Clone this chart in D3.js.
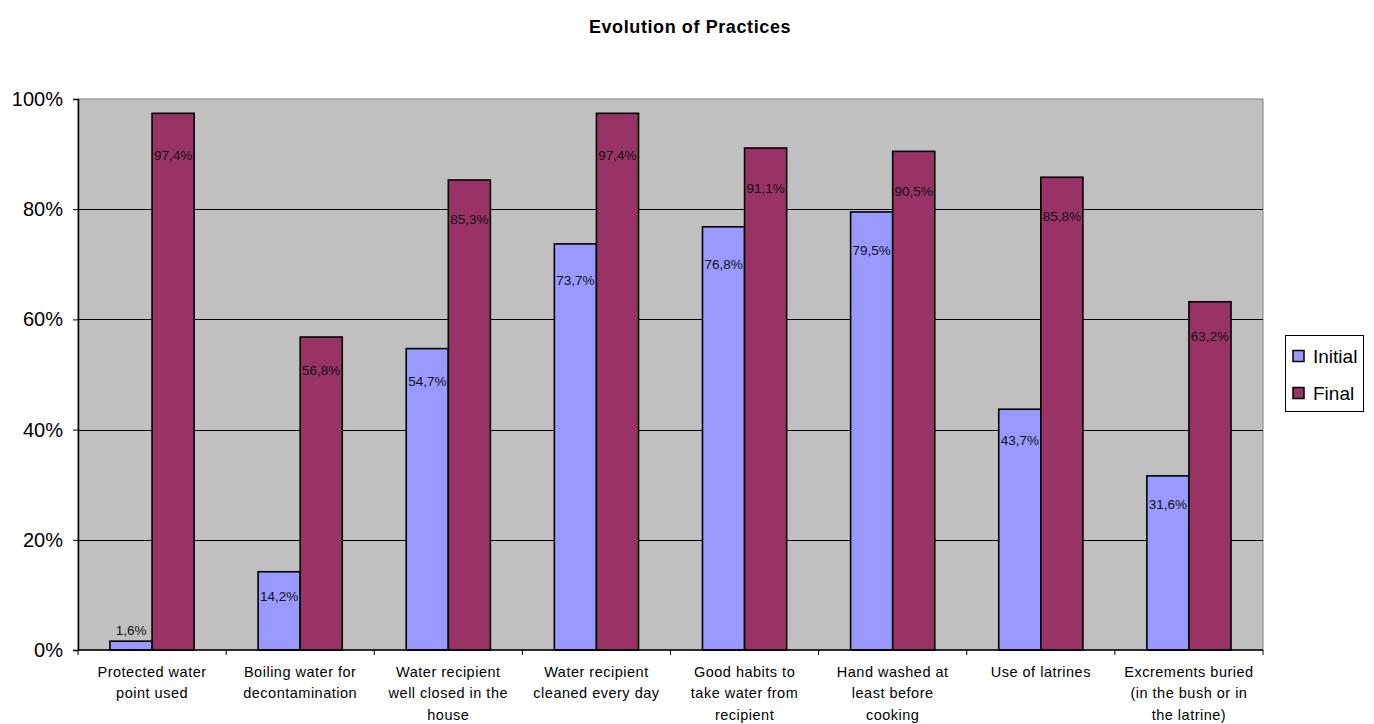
<!DOCTYPE html>
<html>
<head>
<meta charset="utf-8">
<script src="https://cdn.jsdelivr.net/npm/d3@7"></script>
<style>
  html, body { margin: 0; padding: 0; background: #ffffff; }
  svg { display: block; font-family: "Liberation Sans", Arial, sans-serif; }
</style>
</head>
<body>
<svg id="chart" width="1374" height="724"></svg>
<script>
// Practice indicators, before and after the programme
const categories = [
  ["Protected water", "point used"],
  ["Boiling water for", "decontamination"],
  ["Water recipient", "well closed in the", "house"],
  ["Water recipient", "cleaned every day"],
  ["Good habits to", "take water from", "recipient"],
  ["Hand washed at", "least before", "cooking"],
  ["Use of latrines"],
  ["Excrements buried", "(in the bush or in", "the latrine)"]
];
const seriesNames = ["Initial", "Final"];
const initialValues = [1.6, 14.2, 54.7, 73.7, 76.8, 79.5, 43.7, 31.6];
const finalValues = [97.4, 56.8, 85.3, 97.4, 91.1, 90.5, 85.8, 63.2];
const yTicks = [0, 20, 40, 60, 80, 100];
const colors = ["#9999FF", "#993366"];

const seriesValues = [initialValues, finalValues];
const rows = categories.map((c, i) => ({
  index: i,
  lines: c,
  values: seriesNames.map((s, k) => ({ series: s, k, value: seriesValues[k][i] }))
}));

const svg = d3.select("#chart");
const plot = { left: 78, right: 1263, top: 99, bottom: 650 };

// Title
svg.append("text")
  .attr("x", 690).attr("y", 33)
  .attr("text-anchor", "middle")
  .attr("font-weight", "bold")
  .attr("font-size", 18)
  .attr("letter-spacing", 0.6)
  .text("Evolution of Practices");

const x0 = d3.scaleBand()
  .domain(rows.map(r => r.index))
  .range([plot.left, plot.right])
  .paddingInner(0).paddingOuter(0);

const x1 = d3.scaleBand()
  .domain(seriesNames)
  .range([0, x0.bandwidth()])
  .paddingInner(0).paddingOuter(0.76);

const y = d3.scaleLinear().domain([0, 100]).range([plot.bottom, plot.top]);

// Plot background
svg.append("rect")
  .attr("x", plot.left).attr("y", plot.top)
  .attr("width", plot.right - plot.left)
  .attr("height", plot.bottom - plot.top)
  .attr("fill", "#C0C0C0")
  .attr("stroke", "#808080")
  .attr("stroke-width", 1);

// Gridlines
svg.append("g")
  .selectAll("line")
  .data(yTicks.filter(t => t > 0 && t < 100))
  .join("line")
  .attr("x1", plot.left).attr("x2", plot.right)
  .attr("y1", d => Math.round(y(d)) + 0.5).attr("y2", d => Math.round(y(d)) + 0.5)
  .attr("stroke", "#000").attr("stroke-width", 1);

// Bars
const groups = svg.append("g")
  .selectAll("g")
  .data(rows)
  .join("g")
  .attr("transform", d => `translate(${x0(d.index)},0)`);

groups.selectAll("rect")
  .data(d => d.values)
  .join("rect")
  .attr("x", d => x1(d.series))
  .attr("y", d => y(d.value))
  .attr("width", x1.bandwidth())
  .attr("height", d => y(0) - y(d.value))
  .attr("fill", d => colors[d.k])
  .attr("stroke", "#000")
  .attr("stroke-width", 1.6);

// Value labels (comma decimal separator)
const fmt = v => d3.format(".1f")(v).replace(".", ",") + "%";
groups.selectAll("text.val")
  .data(d => d.values)
  .join("text")
  .attr("class", "val")
  .attr("x", d => x1(d.series) + x1.bandwidth() / 2)
  .attr("y", d => {
    const top = y(d.value);
    const h = y(0) - top;
    return h < 30 ? top - 11 : top + 22 + 0.2 * d.value;
  })
  .attr("dy", "0.35em")
  .attr("text-anchor", "middle")
  .attr("font-size", 13.5)
  .attr("fill", "#111")
  .text(d => fmt(d.value));

// Y axis
const yAxis = d3.axisLeft(y)
  .tickValues(yTicks)
  .tickSize(5)
  .tickPadding(10)
  .tickFormat(d => d + "%");
const yg = svg.append("g")
  .attr("transform", `translate(${plot.left},0)`)
  .call(yAxis);
yg.select(".domain").attr("stroke", "#000").attr("stroke-width", 1.5);
yg.selectAll(".tick line").attr("stroke", "#000");
yg.selectAll(".tick text")
  .attr("font-size", 20)
  .attr("font-family", "Liberation Sans, Arial, sans-serif")
  .attr("fill", "#000");

// X axis: ticks at category boundaries
const xg = svg.append("g");
xg.append("line")
  .attr("x1", plot.left).attr("x2", plot.right)
  .attr("y1", plot.bottom).attr("y2", plot.bottom)
  .attr("stroke", "#000").attr("stroke-width", 1.5);
xg.selectAll("line.tick")
  .data(d3.range(rows.length + 1))
  .join("line")
  .attr("class", "tick")
  .attr("x1", i => i < rows.length ? x0(i) : x0(rows.length - 1) + x0.bandwidth())
  .attr("x2", i => i < rows.length ? x0(i) : x0(rows.length - 1) + x0.bandwidth())
  .attr("y1", plot.bottom).attr("y2", plot.bottom + 5)
  .attr("stroke", "#000");

const catLabels = xg.selectAll("text.cat")
  .data(rows)
  .join("text")
  .attr("class", "cat")
  .attr("x", d => x0(d.index) + x0.bandwidth() / 2)
  .attr("y", 677)
  .attr("text-anchor", "middle")
  .attr("font-size", 14.5)
  .attr("letter-spacing", 0.5)
  .attr("fill", "#000");
catLabels.selectAll("tspan")
  .data(d => d.lines.map((l, j) => ({ l, j, x: x0(d.index) + x0.bandwidth() / 2 })))
  .join("tspan")
  .attr("x", d => d.x)
  .attr("dy", d => d.j === 0 ? 0 : 21.3)
  .text(d => d.l);

// Legend
const legend = svg.append("g");
legend.append("rect")
  .attr("x", 1285.5).attr("y", 335.5)
  .attr("width", 78).attr("height", 76)
  .attr("fill", "#fff")
  .attr("stroke", "#000").attr("stroke-width", 1);
const items = legend.selectAll("g.item")
  .data(seriesNames)
  .join("g")
  .attr("class", "item")
  .attr("transform", (d, i) => `translate(1293, ${356 + i * 37})`);
items.append("rect")
  .attr("x", 0).attr("y", -5.5)
  .attr("width", 11).attr("height", 11)
  .attr("fill", (d, i) => colors[i])
  .attr("stroke", "#000").attr("stroke-width", 1.5);
items.append("text")
  .attr("x", 20).attr("y", 0)
  .attr("dy", "0.35em")
  .attr("font-size", 19)
  .attr("fill", "#000")
  .text(d => d);
</script>
</body>
</html>
